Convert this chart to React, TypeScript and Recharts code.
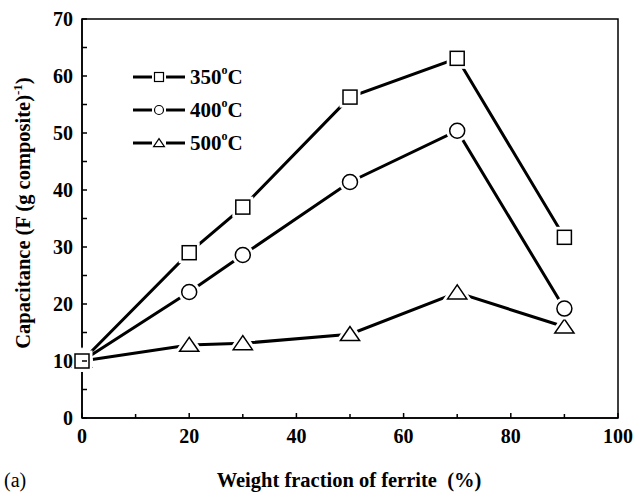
import { LineChart, Line, XAxis, YAxis, ReferenceArea } from 'recharts';

const fractions = [0, 20, 30, 50, 70, 90];
const cap350 = [10, 29, 37, 56.3, 63.1, 31.7];
const cap400 = [10, 22.1, 28.6, 41.4, 50.4, 19.2];
const cap500 = [10, 12.8, 13.1, 14.7, 22, 16];

const seriesNames = ['350', '400', '500'];
const xTicks = [0, 10, 20, 30, 40, 50, 60, 70, 80, 90, 100];
const yTicks = [0, 5, 10, 15, 20, 25, 30, 35, 40, 45, 50, 55, 60, 65, 70];

const rows = fractions.map((x, i) => ({ x, s350: cap350[i], s400: cap400[i], s500: cap500[i] }));

const FONT = 'Liberation Serif, Times New Roman, serif';

type Shape = 'square' | 'circle' | 'triangle';

function marker(shape: Shape, cx: number, cy: number, r: number, stroke: string, sw: number) {
  if (shape === 'square') {
    return <rect x={cx - r} y={cy - r} width={r * 2} height={r * 2} fill="#fff" stroke={stroke} strokeWidth={sw} />;
  }
  if (shape === 'circle') {
    return <circle cx={cx} cy={cy} r={r} fill="#fff" stroke={stroke} strokeWidth={sw} />;
  }
  const h = r * 1.75;
  const pts = `${cx},${cy - h * 0.55} ${cx - r * 1.2},${cy + h * 0.45} ${cx + r * 1.2},${cy + h * 0.45}`;
  return <polygon points={pts} fill="#fff" stroke={stroke} strokeWidth={sw} strokeLinejoin="miter" />;
}

const makeDot = (shape: Shape, r: number) => (props: any) => {
  const { cx, cy, index } = props;
  if (cx == null || cy == null) return <g key={index} />;
  return (
    <g key={`${shape}-${index}`}>
      {marker(shape, cx, cy, r, '#fff', 7)}
      {marker(shape, cx, cy, r, '#000', 1.5)}
    </g>
  );
};

const XTick = (props: any) => {
  const { x, y, payload } = props;
  const major = payload.value % 20 === 0;
  return (
    <g>
      <line x1={x} x2={x} y1={y} y2={y - (major ? 5 : 4)} stroke="#000" strokeWidth={1.5} />
      {major && (
        <text x={x} y={y + 25} textAnchor="middle" fontFamily={FONT} fontWeight="bold" fontSize={20} fill="#000">
          {payload.value}
        </text>
      )}
    </g>
  );
};

const YTick = (props: any) => {
  const { x, y, payload } = props;
  const major = payload.value % 10 === 0;
  return (
    <g>
      <line x1={x} x2={x + 5} y1={y} y2={y} stroke="#000" strokeWidth={1.5} />
      {major && (
        <text x={x - 9} y={y + 7} textAnchor="end" fontFamily={FONT} fontWeight="bold" fontSize={20} fill="#000">
          {payload.value}
        </text>
      )}
    </g>
  );
};

const legendShapes: Shape[] = ['square', 'circle', 'triangle'];

// key in the plot's upper-left corner
const LegendKey = () => (
  <g>
    {seriesNames.map((name, i) => {
      const y = 77 + i * 33;
      return (
        <g key={name}>
          <line x1={133} x2={152} y1={y} y2={y} stroke="#000" strokeWidth={3} />
          <line x1={166} x2={185} y1={y} y2={y} stroke="#000" strokeWidth={3} />
          {marker(legendShapes[i], 159, y, 4.5, '#000', 1.2)}
          <text x={190} y={y + 7} fontFamily={FONT} fontWeight="bold" fontSize={21} fill="#000">
            {name}
            <tspan fontSize={12} dy={-10}>o</tspan>
            <tspan dy={10}>C</tspan>
          </text>
        </g>
      );
    })}
  </g>
);

const YTitle = () => (
  <g>
    <text
      x={0}
      y={0}
      transform="translate(30, 213) rotate(-90)"
      textAnchor="middle"
      fontFamily={FONT}
      fontWeight="bold"
      fontSize={20.5}
      fill="#000"
    >
      Capacitance (F (g composite)
      <tspan fontSize={13} dy={-8}>-1</tspan>
      <tspan dy={8}>)</tspan>
    </text>
    <LegendKey />
  </g>
);

const XTitle = () => (
  <g>
    <text x={349} y={487} textAnchor="middle" fontFamily={FONT} fontWeight="bold" fontSize={20.5} fill="#000" xmlSpace="preserve">
      Weight fraction of ferrite  (%)
    </text>
    <text x={4} y={487} fontFamily={FONT} fontSize={20} fill="#000">
      (a)
    </text>
  </g>
);

export default function App() {
  return (
    <div style={{ position: 'absolute', left: 0, top: 0, width: 634, height: 492, background: '#fff' }}>
      <LineChart width={634} height={492} data={rows} margin={{ top: 19, right: 16, left: 0, bottom: 0 }}>
        <XAxis
          type="number"
          dataKey="x"
          domain={[0, 100]}
          ticks={xTicks}
          interval={0}
          height={74}
          tickLine={false}
          tickSize={0}
          tickMargin={0}
          tick={<XTick />}
          axisLine={{ stroke: '#000', strokeWidth: 1.5 }}
          label={<XTitle />}
        />
        <YAxis
          type="number"
          domain={[0, 70]}
          ticks={yTicks}
          interval={0}
          width={82}
          tickLine={false}
          tickSize={0}
          tickMargin={0}
          tick={<YTick />}
          axisLine={{ stroke: '#000', strokeWidth: 1.5 }}
          label={<YTitle />}
        />
        <ReferenceArea x1={0} x2={100} y1={0} y2={70} fill="none" fillOpacity={0} stroke="#000" strokeWidth={1.5} />
        <Line dataKey="s500" stroke="#000" strokeWidth={3} isAnimationActive={false} dot={makeDot('triangle', 8)} />
        <Line dataKey="s400" stroke="#000" strokeWidth={3} isAnimationActive={false} dot={makeDot('circle', 7.5)} />
        <Line dataKey="s350" stroke="#000" strokeWidth={3} isAnimationActive={false} dot={makeDot('square', 7)} />
      </LineChart>
    </div>
  );
}
